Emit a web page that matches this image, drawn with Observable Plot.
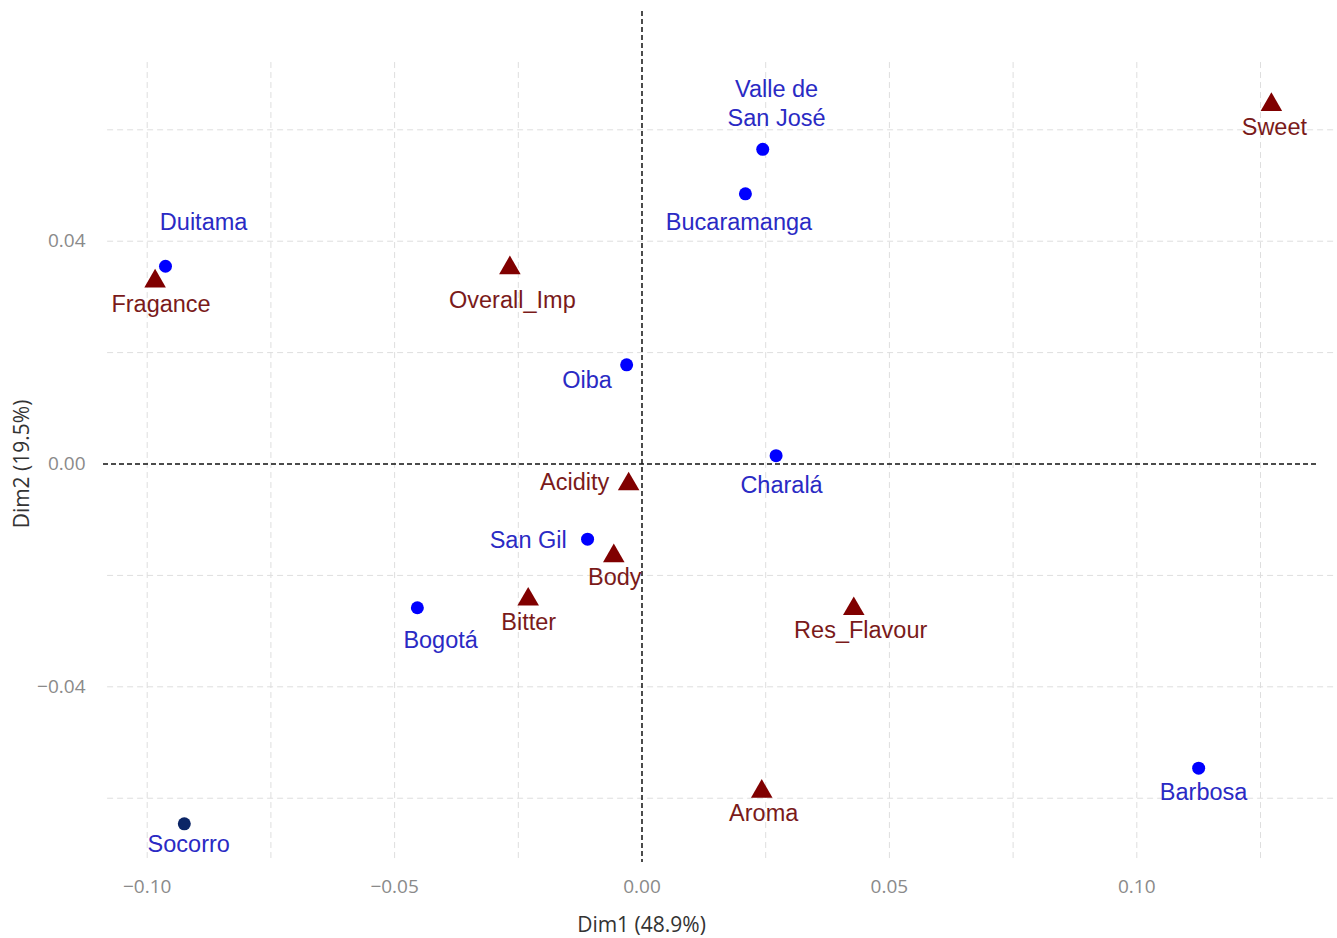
<!DOCTYPE html>
<html>
<head>
<meta charset="utf-8">
<script src="https://cdn.jsdelivr.net/npm/d3@7"></script>
<script src="https://cdn.jsdelivr.net/npm/@observablehq/plot@0.6"></script>
<style>
  html, body { margin: 0; padding: 0; background: #ffffff; }
  #chart svg { display: block; }
</style>
</head>
<body>
<div id="chart"></div>
<script>
// ---- Individuals (origins) ----
const indNames  = ["Duitama", "Valle de San José", "Bucaramanga", "Oiba", "Charalá", "San Gil", "Bogotá", "Socorro", "Barbosa"];
const indLabels = ["Duitama", "Valle de\nSan José", "Bucaramanga", "Oiba", "Charalá", "San Gil", "Bogotá", "Socorro", "Barbosa"];
const indDim1   = [-0.0963, 0.0244, 0.0209, -0.0031, 0.0271, -0.0110, -0.0454, -0.0925, 0.1125];
const indDim2   = [0.0355, 0.0565, 0.0485, 0.0178, 0.0015, -0.0135, -0.0258, -0.0646, -0.0546];
const indLabelDim1 = [-0.0886, 0.0272, 0.0196, -0.0111, 0.0282, -0.0230, -0.0407, -0.0916, 0.1135];
const indLabelDim2 = [0.0437, 0.0650, 0.0436, 0.0154, -0.0036, -0.0134, -0.0313, -0.0679, -0.0586];
const highlightedInd = ["Socorro"];

// ---- Variables (attributes) ----
const varNames = ["Fragance", "Overall_Imp", "Sweet", "Acidity", "Body", "Bitter", "Res_Flavour", "Aroma"];
const varDim1  = [-0.0984, -0.0267, 0.1272, -0.0027, -0.0057, -0.0230, 0.0428, 0.0242];
const varDim2  = [0.0328, 0.0352, 0.0645, -0.0036, -0.0165, -0.0243, -0.0260, -0.0588];
const varLabelDim1 = [-0.0972, -0.0262, 0.1278, -0.0136, -0.0055, -0.0229, 0.0442, 0.0246];
const varLabelDim2 = [0.0286, 0.0294, 0.0605, -0.0034, -0.0204, -0.0285, -0.0299, -0.0628];

// ---- Axes ----
const xTicks = [-0.10, -0.05, 0.00, 0.05, 0.10];
const yTicks = [-0.04, 0.00, 0.04];
const xGrid = [-0.10, -0.075, -0.05, -0.025, 0.025, 0.05, 0.075, 0.10, 0.125];
const yGrid = [-0.06, -0.04, -0.02, 0.02, 0.04, 0.06];
const xTitle = "Dim1 (48.9%)";
const yTitle = "Dim2 (19.5%)";

const xDomain = [-0.10883, 0.14056];
const yDomain = [-0.07154, 0.08124];
const gridYExtent = [-0.07083, 0.07244];
const gridXExtent = [-0.1080, 0.14056];
const zeroHExtent = [-0.10883, 0.13652];

const inds = indNames.map((n, i) => ({name: n, label: indLabels[i], x: indDim1[i], y: indDim2[i], lx: indLabelDim1[i], ly: indLabelDim2[i], hi: highlightedInd.includes(n)}));
const vars = varNames.map((n, i) => ({name: n, x: varDim1[i], y: varDim2[i], lx: varLabelDim1[i], ly: varLabelDim2[i]}));

const fmt = d3.format(".2f");
const labelFont = "Liberation Sans, Arial, sans-serif";
const axisFont = "Open Sans, Noto Sans, sans-serif";

const chart = Plot.plot({
  width: 1337,
  height: 938,
  marginTop: 11,
  marginRight: 0,
  marginBottom: 76,
  marginLeft: 103,
  style: {background: "#ffffff", fontFamily: axisFont},
  x: {domain: xDomain},
  y: {domain: yDomain},
  marks: [
    Plot.ruleX(xGrid, {y1: gridYExtent[0], y2: gridYExtent[1], stroke: "#dedede", strokeWidth: 1, strokeDasharray: "6,4"}),
    Plot.ruleY(yGrid, {x1: gridXExtent[0], x2: gridXExtent[1], stroke: "#dedede", strokeWidth: 1, strokeDasharray: "6,4"}),
    Plot.ruleY([0], {x1: zeroHExtent[0], x2: zeroHExtent[1], stroke: "#111111", strokeWidth: 1.5, strokeDasharray: "5,3"}),
    Plot.ruleX([0], {stroke: "#111111", strokeWidth: 1.5, strokeDasharray: "5,3"}),
    Plot.axisX({ticks: xTicks, tickFormat: fmt, tickSize: 0, tickPadding: 17, fontSize: 19, color: "#8a8a8a", label: null}),
    Plot.axisY({ticks: yTicks, tickFormat: fmt, tickSize: 0, tickPadding: 18, fontSize: 19, color: "#8a8a8a", label: null}),
    Plot.text([xTitle], {frameAnchor: "bottom", textAnchor: "middle", dx: -79, dy: 63, lineAnchor: "middle", fontSize: 21, fill: "#333333", fontFamily: axisFont}),
    Plot.text([yTitle], {frameAnchor: "left", textAnchor: "middle", dx: -81, dy: 27, rotate: -90, lineAnchor: "middle", fontSize: 21, fill: "#333333", fontFamily: axisFont}),
    // individuals
    Plot.dot(inds, {x: "x", y: "y", r: 6.5, fill: d => d.hi ? "#0b2566" : "#0000ff", stroke: null}),
    Plot.text(inds, {x: "lx", y: "ly", text: "label", fill: "#2a2ac4", fontSize: 23.5, lineHeight: 1.24, lineAnchor: "middle", fontFamily: labelFont}),
    // variables
    Plot.dot(vars, {x: "x", y: "y", symbol: "triangle", r: 8, fill: "#800000", stroke: null}),
    Plot.text(vars, {x: "lx", y: "ly", text: "name", fill: "#7a1a1a", fontSize: 23.5, lineAnchor: "middle", fontFamily: labelFont})
  ]
});
document.getElementById("chart").appendChild(chart);
</script>
</body>
</html>
